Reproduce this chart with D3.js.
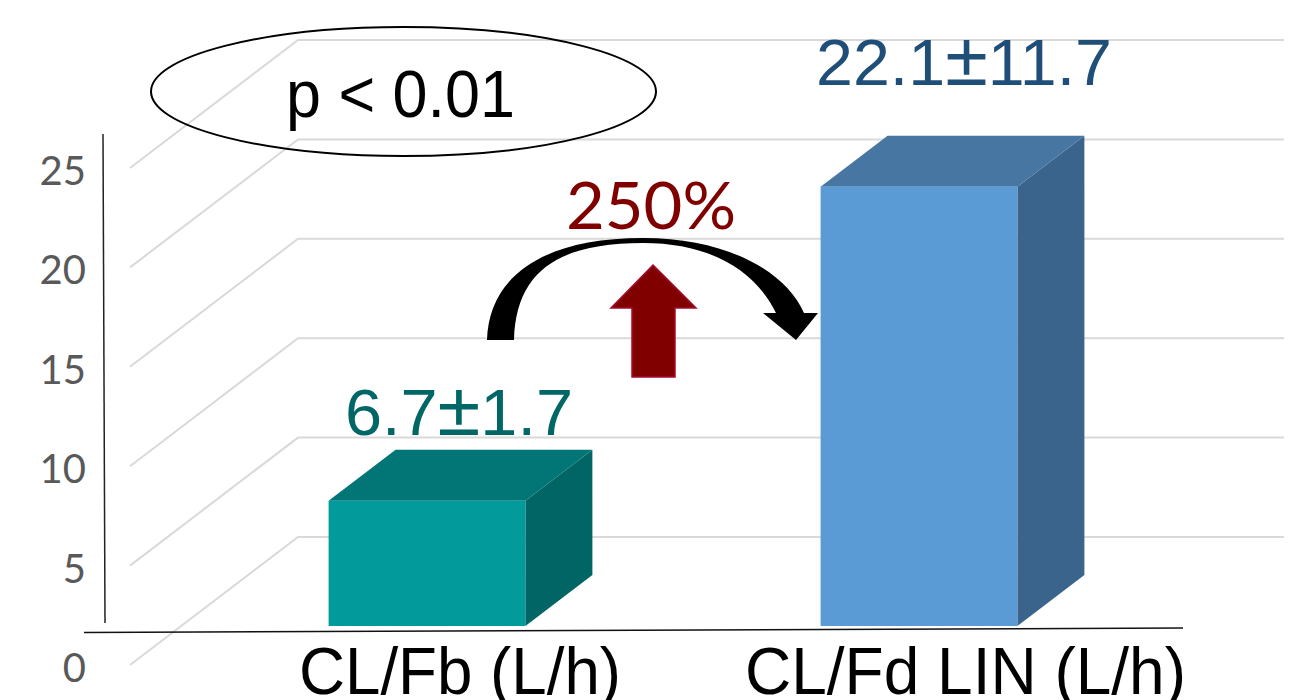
<!DOCTYPE html>
<html>
<head>
<meta charset="utf-8">
<script src="https://cdn.jsdelivr.net/npm/d3@7"></script>
<style>
  html, body { margin: 0; background: #fff; overflow: hidden; }
  svg { display: block; }
</style>
</head>
<body>
<div id="chart"></div>
<script>
var categories = ['CL/Fb (L/h)', 'CL/Fd LIN (L/h)'];
var barValues = [6.3, 22.1];
var barMeans = ['6.7', '22.1'];
var barSds = ['1.7', '11.7'];
var tickValues = [0, 5, 10, 15, 20, 25];
var frontColors = ['#029a9a', '#5b9bd5'];
var topColors = ['#027676', '#4876a2'];
var sideColors = ['#016565', '#3b648c'];
var labelColors = ['#006666', '#1f4e79'];

var width = 1301, height = 700;
var sans = '"Liberation Sans", Arial, sans-serif';
var lato = 'Lato, "Open Sans", sans-serif';

// perspective offsets of the 3d box
var wallDx = 168, wallDy = 128;   // front edge of floor -> back wall
var floorDx = 51, floorDy = 39;   // front edge of floor -> bar front
var boxDx = 67, boxDy = 51;       // bar depth

var svg = d3.select('#chart').append('svg')
    .attr('width', width)
    .attr('height', height);

var y = d3.scaleLinear().domain([0, 25]).range([665, 168]);
var x = d3.scaleBand().domain(categories).range([181, 1165])
    .paddingInner(0.6).paddingOuter(0.3);

// gridlines, side wall then back wall
var grid = svg.append('g').attr('fill', 'none').attr('stroke', '#d9d9d9');
grid.selectAll('path').data(tickValues).enter().append('path')
    .attr('stroke-width', 2)
    .attr('d', function(d) {
        var p = d3.path();
        p.moveTo(130, y(d));
        p.lineTo(130 + wallDx, y(d) - wallDy);
        p.lineTo(1284, y(d) - wallDy);
        return p.toString();
    });

// tick labels
svg.append('g').selectAll('text').data(tickValues).enter().append('text')
    .attr('x', 86)
    .attr('y', function(d) { return y(d) + 17; })
    .attr('text-anchor', 'end')
    .attr('font-family', lato)
    .attr('font-size', 40)
    .attr('fill', '#595959')
    .text(function(d) { return d; });

// bars
var bars = svg.append('g').selectAll('g').data(categories).enter().append('g');

function barGeom(i) {
    var x0 = x(categories[i]);
    var x1 = x0 + x.bandwidth();
    var base = y(0) - floorDy;
    var top = base - (y(0) - y(barValues[i]));
    return { x0: x0, x1: x1, base: base, top: top };
}

bars.append('polygon')
    .attr('fill', function(d, i) { return sideColors[i]; })
    .attr('points', function(d, i) {
        var g = barGeom(i);
        return [[g.x1, g.top], [g.x1 + boxDx, g.top - boxDy], [g.x1 + boxDx, g.base - boxDy], [g.x1, g.base]].join(' ');
    });
bars.append('polygon')
    .attr('fill', function(d, i) { return topColors[i]; })
    .attr('points', function(d, i) {
        var g = barGeom(i);
        return [[g.x0, g.top], [g.x0 + boxDx, g.top - boxDy], [g.x1 + boxDx, g.top - boxDy], [g.x1, g.top]].join(' ');
    });
bars.append('rect')
    .attr('fill', function(d, i) { return frontColors[i]; })
    .attr('x', function(d, i) { return barGeom(i).x0; })
    .attr('y', function(d, i) { return barGeom(i).top; })
    .attr('width', x.bandwidth())
    .attr('height', function(d, i) { var g = barGeom(i); return g.base - g.top; });

// axis lines, slightly crooked like the pasted original
svg.append('line').attr('x1', 103).attr('y1', 134).attr('x2', 105).attr('y2', 623)
    .attr('stroke', '#222').attr('stroke-width', 1.5);
svg.append('line').attr('x1', 84).attr('y1', 632.5).attr('x2', 1183).attr('y2', 628)
    .attr('stroke', '#111').attr('stroke-width', 1.5);

// value labels, the plus-minus sign is bigger in the original
var valueLabels = svg.append('g').selectAll('text').data(barMeans).enter().append('text')
    .attr('x', function(d, i) { return i === 0 ? 345 : 816; })
    .attr('y', function(d, i) { return i === 0 ? 435 : 85; })
    .attr('font-family', sans)
    .attr('font-size', 65)
    .attr('textLength', function(d, i) { return i === 0 ? 228 : 296; })
    .attr('lengthAdjust', 'spacingAndGlyphs')
    .attr('fill', function(d, i) { return labelColors[i]; });
valueLabels.append('tspan').text(function(d) { return d; });
valueLabels.append('tspan').attr('font-size', 76).text('±');
valueLabels.append('tspan').text(function(d, i) { return barSds[i]; });

// category labels
svg.append('g').selectAll('text').data(categories).enter().append('text')
    .attr('x', function(d, i) { return i === 0 ? 299 : 745; })
    .attr('y', 694)
    .attr('font-family', sans)
    .attr('font-size', 67)
    .attr('textLength', function(d, i) { return i === 0 ? 322 : 441; })
    .attr('lengthAdjust', 'spacingAndGlyphs')
    .attr('fill', '#000')
    .text(function(d) { return d; });

// p value ellipse
svg.append('ellipse')
    .attr('cx', 403.5).attr('cy', 91.5).attr('rx', 252.5).attr('ry', 64.5)
    .attr('fill', 'none').attr('stroke', '#000').attr('stroke-width', 2);
svg.append('text')
    .attr('x', 286).attr('y', 117)
    .attr('font-family', sans)
    .attr('font-size', 66)
    .attr('textLength', 229)
    .attr('lengthAdjust', 'spacingAndGlyphs')
    .attr('fill', '#000')
    .text('p < 0.01');

// curved arrow
var arc = d3.path();
arc.moveTo(487, 340);
arc.bezierCurveTo(489, 275, 545, 238, 643, 238);
arc.bezierCurveTo(725, 238, 785, 270, 804, 313);
arc.lineTo(818, 313);
arc.lineTo(796, 340);
arc.lineTo(763, 313);
arc.lineTo(776, 313);
arc.bezierCurveTo(755, 270, 710, 243, 643, 243);
arc.bezierCurveTo(560, 243, 516, 270, 514, 340);
arc.closePath();
svg.append('path').attr('d', arc.toString()).attr('fill', '#000');

// up arrow
svg.append('polygon')
    .attr('points', '653,265 696,308 675,308 675,377 632,377 632,308 611,308')
    .attr('fill', '#800000')
    .attr('stroke', '#a50a32')
    .attr('stroke-width', 1.5);

svg.append('text')
    .attr('x', 566).attr('y', 229)
    .attr('font-family', lato)
    .attr('font-size', 66)
    .attr('textLength', 170)
    .attr('lengthAdjust', 'spacingAndGlyphs')
    .attr('fill', '#800000')
    .text('250%');
</script>
</body>
</html>
